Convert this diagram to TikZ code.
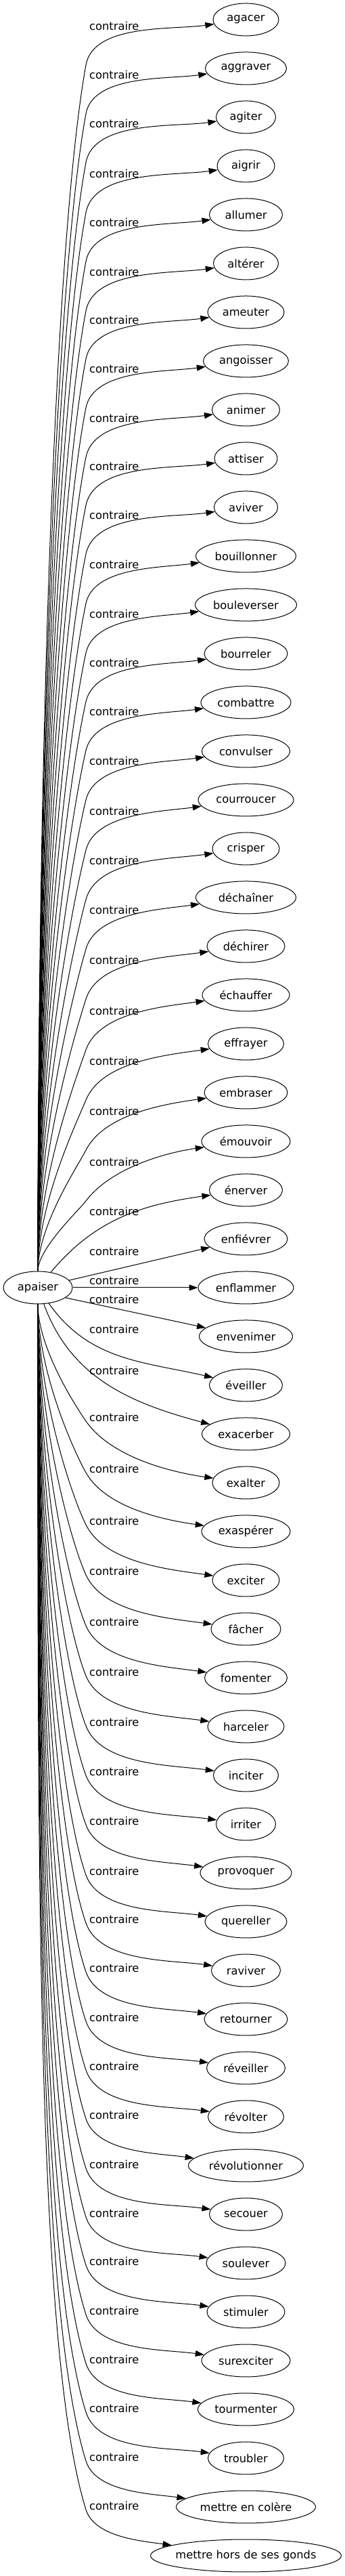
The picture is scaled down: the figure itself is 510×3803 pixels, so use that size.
\documentclass[tikz,border=0pt]{standalone}
\usepackage{fontspec}
\setmainfont{DejaVu Sans}
\usetikzlibrary{arrows.meta,calc,shapes.geometric}

\tikzset{
  mot/.style={ellipse,draw,line width=1bp,inner xsep=-4.5bp,inner ysep=0pt,minimum height=48bp},
  rel/.style={anchor=west,inner sep=0pt},
  fleche/.style={line width=1bp,-{Triangle[length=13bp,width=9bp]}},
}

\begin{document}
\begin{tikzpicture}[x=1bp,y=1bp,font=\fontsize{16.3bp}{20bp}\selectfont]
\useasboundingbox (0,0) rectangle (510,3803);
\node[mot,minimum width=102bp] (ap) at (56,1902) {apaiser};
% words on the right, labels in the middle column
\foreach \w/\l/\t [count=\i from 0] in {%
97/38/agacer,120/110/aggraver,88/182/agiter,85/256/aigrir,108/328/allumer,
96/401/altérer,113/472/ameuter,126/544/angoisser,100/617/animer,93/688/attiser,
94/760/aviver,148/833/bouillonner,150/906/bouleverser,123/978/bourreler,
133/1050/combattre,130/1123/convulser,141/1197/courroucer,99/1270/crisper,
148/1343/déchaîner,115/1417/déchirer,129/1492/échauffer,112/1566/effrayer,
123/1640/embraser,131/1715/émouvoir,108/1788/énerver,123/1847/enfiévrer,
141/1890/enflammer,138/1918/envenimer,108/1962/éveiller,130/2023/exacerber,
99/2092/exalter,131/2168/exaspérer,99/2245/exciter,103/2319/fâcher,
122/2394/fomenter,113/2468/harceler,96/2542/inciter,88/2615/irriter,
135/2688/provoquer,121/2762/quereller,102/2833/raviver,123/2905/retourner,
116/2978/réveiller,112/3050/révolter,170/3122/révolutionner,108/3195/secouer,
117/3267/soulever,115/3338/stimuler,131/3411/surexciter,142/3483/tourmenter,
112/3555/troubler,206/3627/mettre en colère,282/3699/mettre hors de ses gonds} {
  \node[mot,minimum width=\w bp] (m\i) at (363.5,{3774-72*\i}) {\t};
  \node[rel] (r\i) at (132,{3803-\l}) {contraire};
}
% edges going up
\foreach \i in {0,...,23} {
  \coordinate (k\i) at ([shift={(-5,-58)}]r\i.west);
  \draw[fleche] let \p1=($(k\i)-(ap)$), \n1={atan2(\y1,\x1)-8},
      \n2={0.45*\y1}, \n3={0.14*\y1} in
    (ap) .. controls +(0pt,\n2) and +({\n1+180}:\n3) .. (k\i)
    to[out=\n1,in=188,looseness=0.8] (m\i);
}
% edges near the middle
\draw[fleche] (ap) to[out=50,in=188] (m24);
\draw[fleche] (ap) -- (m25);
\draw[fleche] (ap) -- (m26);
\draw[fleche] (ap.-20) -- (m27);
\draw[fleche] (ap) to[out=-55,in=167] (m28);
\draw[fleche] (ap) to[out=-70,in=165] (m29);
% edges going down
\foreach \i in {30,...,52} {
  \coordinate (k\i) at ([shift={(-5,-6)}]r\i.west);
  \draw[fleche] let \p1=($(k\i)-(ap)$), \n1={atan2(\y1,\x1)+15},
      \n2={0.45*\y1}, \n3={-0.14*\y1} in
    (ap) .. controls +(0pt,\n2) and +({\n1+180}:\n3) .. (k\i)
    to[out=\n1,in=172,looseness=0.8] (m\i);
}
\end{tikzpicture}
\end{document}
